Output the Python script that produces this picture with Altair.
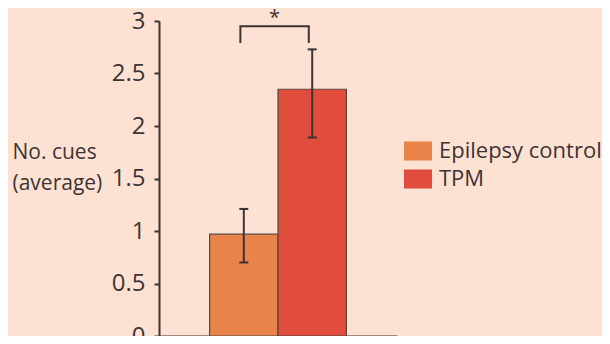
import altair as alt
import pandas as pd

groups = ["Epilepsy control", "TPM"]
means = [0.97, 2.35]
err_low = [0.70, 1.89]
err_high = [1.21, 2.73]
colors = ["#e8844a", "#e04d3c"]
bracket_x = ["Epilepsy control", "Epilepsy control", "TPM", "TPM"]
bracket_y = [2.79, 2.95, 2.95, 2.79]
star_y = [3.12]
y_ticks = [0, 0.5, 1, 1.5, 2, 2.5, 3]

FONT = "Open Sans"
INK = "#3d3333"

bars_df = pd.DataFrame({"group": groups, "mean": means, "lo": err_low, "hi": err_high})
bracket_df = pd.DataFrame({"group": bracket_x, "y": bracket_y, "k": list(range(len(bracket_x)))})
star_df = pd.DataFrame({"group": [groups[0]], "y": star_y, "t": ["*"]})

xscale = alt.Scale(domain=groups, paddingInner=0, paddingOuter=0.74)
yscale = alt.Scale(domain=[0, 3], nice=False, zero=True)

x_enc = alt.X("group:N", scale=xscale, sort=groups,
              axis=alt.Axis(title=None, labels=False, ticks=False, domainColor=INK, domainWidth=2))

bars = alt.Chart(bars_df).mark_bar(stroke="#5a4640", strokeWidth=1.2).encode(
    x=x_enc,
    y=alt.Y("mean:Q", scale=yscale,
            axis=alt.Axis(title=["No. cues", "(average)"], values=y_ticks, format="~g",
                          grid=False, domainColor=INK, domainWidth=2, tickColor=INK,
                          tickWidth=2, tickSize=5, labelPadding=9, labelFont=FONT,
                          labelFontSize=24, labelColor=INK, titleFont=FONT,
                          titleFontSize=21, titleFontWeight="normal", titleColor=INK,
                          titleAngle=0, titleAlign="left", titleBaseline="alphabetic",
                          titleX=-147, titleY=137, titleLineHeight=31)),
    fill=alt.Fill("group:N", scale=alt.Scale(domain=groups, range=colors),
                  legend=alt.Legend(title=None, orient="none", legendX=245, legendY=116,
                                    symbolType="M-1,-0.68L1,-0.68L1,0.68L-1,0.68Z",
                                    symbolSize=784, symbolStrokeWidth=0, symbolOpacity=1,
                                    labelFont=FONT, labelFontSize=22, labelColor=INK,
                                    labelOffset=7, labelLimit=300, rowPadding=3, padding=0)),
)

rules = alt.Chart(bars_df).mark_rule(color=INK, strokeWidth=2).encode(
    x=alt.X("group:N", scale=xscale, sort=groups), y="lo:Q", y2="hi:Q")
caps_lo = alt.Chart(bars_df).mark_tick(color=INK, thickness=2, size=9, opacity=1).encode(
    x=alt.X("group:N", scale=xscale, sort=groups), y="lo:Q")
caps_hi = alt.Chart(bars_df).mark_tick(color=INK, thickness=2, size=9, opacity=1).encode(
    x=alt.X("group:N", scale=xscale, sort=groups), y="hi:Q")

bracket = alt.Chart(bracket_df).mark_line(color=INK, strokeWidth=2).encode(
    x=alt.X("group:N", scale=xscale, sort=groups, bandPosition=0.45),
    y=alt.Y("y:Q", scale=yscale), order="k:Q")

star = alt.Chart(star_df).mark_text(font=FONT, fontSize=20, color=INK, baseline="top",
                                    clip=False).encode(
    x=alt.X("group:N", scale=xscale, sort=groups, bandPosition=0.95),
    y=alt.Y("y:Q", scale=yscale), text="t:N")

chart = alt.layer(bars, rules, caps_lo, caps_hi, bracket, star).properties(
    width=238, height=315,
    padding={"left": 151, "top": 13, "right": 205, "bottom": 0},
    autosize=alt.AutoSizeParams(type="none"),
    background="#fde2d3",
).configure_view(stroke=None)

chart.save("out.html", embed_options={"renderer": "svg", "actions": False})
